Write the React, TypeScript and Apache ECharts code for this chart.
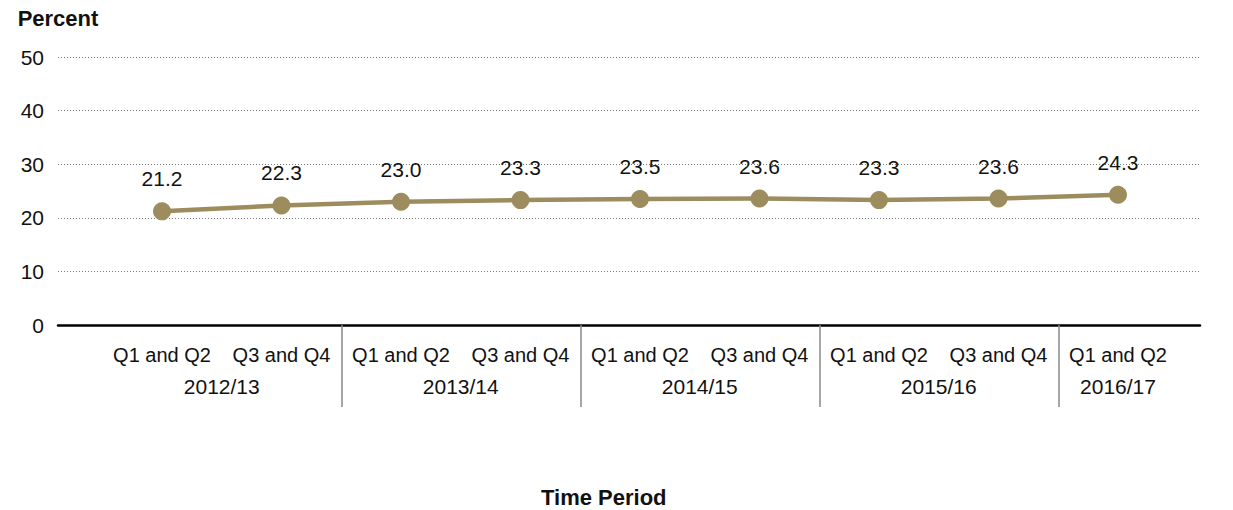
import React, { useEffect, useRef } from "react";
import * as echarts from "echarts";

const quarters = ["Q1 and Q2", "Q3 and Q4", "Q1 and Q2", "Q3 and Q4", "Q1 and Q2", "Q3 and Q4", "Q1 and Q2", "Q3 and Q4", "Q1 and Q2"];
const values = [21.2, 22.3, 23.0, 23.3, 23.5, 23.6, 23.3, 23.6, 24.3];
const years = ["2012/13", "2013/14", "2014/15", "2015/16", "2016/17"];
const quartersPerYear = [2, 2, 2, 2, 1];
const yTicks = [0, 10, 20, 30, 40, 50];

const FONT = "'Liberation Sans', Arial, Helvetica, sans-serif";

// Half-step slots along the quarter axis: slot 2q+1 is the centre of quarter q, slot 2q its left edge.
const slotCount = quarters.length * 2 + 1;
const slots: string[] = Array.from({ length: slotCount }, (_, k) => "s" + k);
const slotYear: Record<string, string> = {};
const yearStartSlots: number[] = [];
{
  let q = 0;
  years.forEach((y, i) => {
    const c = quartersPerYear[i];
    const centreSlot = 2 * (q + (c - 1) / 2) + 1;
    slotYear["s" + centreSlot] = y;
    if (q > 0) yearStartSlots.push(2 * q);
    q += c;
  });
}

export default function App() {
  const ref = useRef<HTMLDivElement>(null);
  useEffect(() => {
    if (!ref.current) return;
    const chart = echarts.init(ref.current, null, { renderer: "svg" });
    const top = 57;
    const bottom = 185;
    chart.setOption({
      animation: false,
      textStyle: { fontFamily: FONT },
      title: {
        text: "Time Period",
        left: 541,
        top: 486,
        padding: 0,
        textStyle: { fontFamily: FONT, fontSize: 22, fontWeight: "bold", color: "#111" },
      },
      grid: [
        { left: 58, right: 33, top, bottom },
        { left: 102.25, right: 55.25, top, bottom },
      ],
      xAxis: [
        {
          type: "value",
          gridIndex: 0,
          position: "bottom",
          min: 0,
          max: 1,
          axisLine: { show: true, lineStyle: { color: "#000", width: 2.5 } },
          axisTick: { show: false },
          axisLabel: { show: false },
          splitLine: { show: false },
        },
        {
          type: "category",
          gridIndex: 1,
          position: "bottom",
          data: quarters,
          boundaryGap: true,
          axisLine: { show: false },
          axisTick: { show: false },
          axisLabel: { fontSize: 20, color: "#111", margin: 20, fontFamily: FONT, interval: 0 },
        },
        {
          type: "category",
          gridIndex: 1,
          position: "bottom",
          data: slots,
          boundaryGap: false,
          axisLine: { show: false },
          axisTick: {
            show: true,
            length: 82,
            lineStyle: { color: "#888", width: 1.5 },
            interval: (i: number) => yearStartSlots.indexOf(i) >= 0,
          },
          axisLabel: {
            fontSize: 21,
            color: "#111",
            margin: 51,
            fontFamily: FONT,
            interval: (_i: number, v: string) => !!slotYear[v],
            formatter: (v: string) => slotYear[v] || "",
          },
          splitLine: { show: false },
        },
      ],
      yAxis: [
        {
          type: "value",
          gridIndex: 0,
          min: yTicks[0],
          max: yTicks[yTicks.length - 1],
          interval: 10,
          name: "Percent",
          nameLocation: "end",
          nameGap: 28,
          nameTextStyle: { fontFamily: FONT, fontSize: 22, fontWeight: "bold", color: "#111" },
          axisLine: { show: false },
          axisTick: { show: false },
          axisLabel: { fontSize: 21, color: "#111", margin: 14, fontFamily: FONT },
          splitLine: { show: true, lineStyle: { type: [1, 2], color: "#777", width: 1 } },
        },
        {
          type: "value",
          gridIndex: 1,
          min: yTicks[0],
          max: yTicks[yTicks.length - 1],
          show: false,
          splitLine: { show: false },
        },
      ],
      series: [
        {
          type: "line",
          xAxisIndex: 1,
          yAxisIndex: 1,
          data: values,
          symbol: "circle",
          symbolSize: 18,
          lineStyle: { color: "#9c8c5e", width: 4.5 },
          itemStyle: { color: "#9c8c5e" },
          label: {
            show: true,
            position: "top",
            distance: 13,
            fontSize: 21,
            color: "#111",
            fontFamily: FONT,
            formatter: (p: any) => Number(p.value).toFixed(1),
          },
        },
      ],
    });
    return () => chart.dispose();
  }, []);
  return <div ref={ref} style={{ position: "absolute", left: 0, top: 0, width: 1233, height: 510 }} />;
}
